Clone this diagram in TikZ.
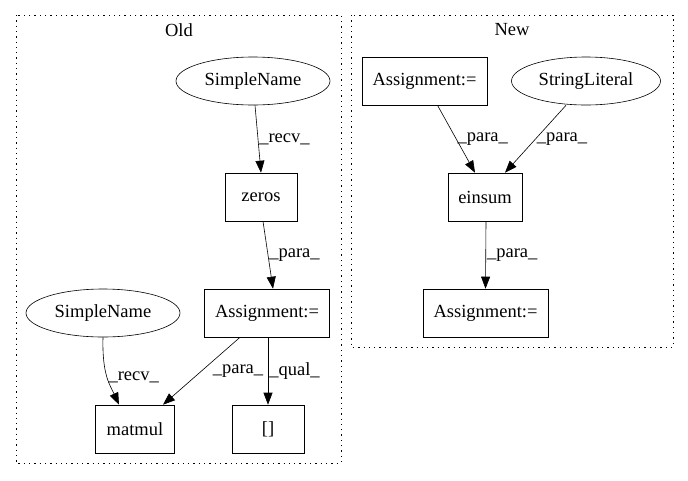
\documentclass[tikz,border=0pt]{standalone}
\usepackage{fontspec}
\setmainfont{Liberation Serif}
\usetikzlibrary{shapes.geometric,arrows.meta}

\tikzset{
    box/.style={draw,rectangle,minimum height=48pt,inner sep=0pt},
    oval/.style={draw,ellipse,minimum height=48pt,inner sep=0pt},
    edge/.style={-{Triangle[length=12pt,width=9pt]}},
    cluster/.style={dash pattern=on 1.3pt off 4pt},
    lbl/.style={right,inner sep=1pt}
}

\begin{document}
\begin{tikzpicture}[x=1pt,y=-1pt,font=\fontsize{18.5}{20}\selectfont]
    \useasboundingbox (0,0) rectangle (688,480);
    \begin{scope}[semithick]

    % Old
    \draw [cluster] (16,15) rectangle (341,463);
    \node (oldtitle) at (179,30) {Old};

    \node [oval,minimum width=154pt] (sn1) at (253,81) {SimpleName};
    \node [box,minimum width=72pt] (zeros) at (261,197) {zeros};
    \node [box,minimum width=125pt] (asgold) at (267,313) {Assignment:=};
    \node [oval,minimum width=154pt] (sn2) at (103,313) {SimpleName};
    \node [box,minimum width=79pt] (matmul) at (135,429) {matmul};
    \node [box,minimum width=72pt] (idx) at (268,429) {[]};

    \draw [edge] (sn1.south) ++(2,0) -- (zeros.north) node [lbl,midway] {\_recv\_};
    \draw [edge] (zeros.south) ++(2,0) -- ([xshift=6pt]asgold.north) node [lbl,midway] {\_para\_};
    \draw [edge] (sn2.south) .. controls (102,375) and (110,385) .. ([xshift=-16pt]matmul.north)
        node [lbl,pos=.5,xshift=0pt] {\_recv\_};
    \draw [edge] ([xshift=-27pt]asgold.south) -- ([xshift=28pt]matmul.north)
        node [lbl,midway,xshift=10pt] {\_para\_};
    \draw [edge] ([xshift=1pt]asgold.south) -- (idx.north) node [lbl,midway] {\_qual\_};

    % New
    \draw [cluster] (351,15) rectangle (673,347);
    \node (newtitle) at (512,30) {New};

    \node [box,minimum width=125pt] (asgtop) at (424.5,81) {Assignment:=};
    \node [oval,minimum width=149pt] (strlit) at (586,81) {StringLiteral};
    \node [box,minimum width=74pt] (einsum) at (485,197) {einsum};
    \node [box,minimum width=125pt] (asgbot) at (485.5,313) {Assignment:=};

    \draw [edge] ([xshift=13pt]asgtop.south) -- ([xshift=-10pt]einsum.north) node [lbl,midway] {\_para\_};
    \draw [edge] ([xshift=-20pt]strlit.south) -- ([xshift=20pt]einsum.north) node [lbl,midway] {\_para\_};
    \draw [edge] ([xshift=1pt]einsum.south) -- (asgbot.north) node [lbl,midway] {\_para\_};

    \end{scope}
\end{tikzpicture}
\end{document}
